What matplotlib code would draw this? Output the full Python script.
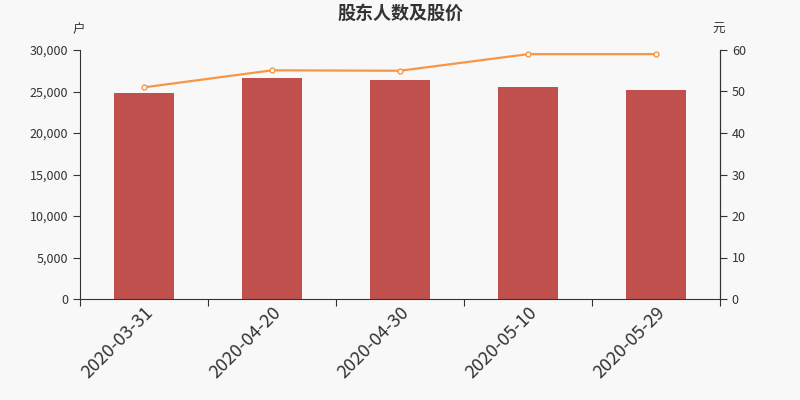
import matplotlib.pyplot as plt
import numpy as np

plt.rcParams['font.family'] = ['Noto Sans CJK SC', 'DejaVu Sans']

# data
dates = ['2020-03-31', '2020-04-20', '2020-04-30', '2020-05-10', '2020-05-29']
holders = [24780, 26630, 26390, 25510, 25180]   # 户
price = [51.0, 55.1, 55.0, 59.0, 59.0]           # 元

bg = '#f8f8f8'
txt = '#333333'

fig = plt.figure(figsize=(8, 4), dpi=100, facecolor=bg)
ax = fig.add_axes([0.1, 0.2525, 0.8, 0.6225])
ax.set_facecolor(bg)

x = np.arange(len(dates))
ax.bar(x, holders, width=0.47, color='#c0504d', zorder=2)
ax.set_xlim(-0.5, len(dates) - 0.5)
ax.set_ylim(0, 30000)
ax.set_yticks(np.arange(0, 30001, 5000))
ax.set_yticklabels([f'{v:,}' for v in range(0, 30001, 5000)])

# ticks between categories, labels centred under bars
ax.set_xticks(np.arange(-0.5, len(dates), 1.0))
ax.set_xticklabels([])
ax.set_xticks(x, minor=True)
ax.set_xticklabels(dates, minor=True, rotation=45, ha='right',
                   rotation_mode='anchor', fontsize=13, color=txt)
ax.tick_params(axis='x', which='minor', length=0, pad=3)
ax.tick_params(axis='x', which='major', length=5, color=txt)
ax.tick_params(axis='y', labelsize=9, colors=txt, length=5)

ax.spines['top'].set_visible(False)
for s in ['left', 'bottom', 'right']:
    ax.spines[s].set_color(txt)

ax2 = ax.twinx()
ax2.plot(x, price, color='#f79646', lw=1.6, marker='o', ms=3.5,
         mfc='white', mec='#f79646', mew=1, zorder=3)
ax2.set_ylim(0, 60)
ax2.set_yticks(np.arange(0, 61, 10))
ax2.tick_params(axis='y', labelsize=9, colors=txt, length=5)
ax2.spines['top'].set_visible(False)
ax2.spines['right'].set_color(txt)
ax2.spines['left'].set_visible(False)
ax2.spines['bottom'].set_visible(False)

fig.text(0.098, 0.91, '户', fontsize=9, color=txt, ha='center', va='bottom')
fig.text(0.898, 0.91, '元', fontsize=9, color=txt, ha='center', va='bottom')
fig.text(0.5, 0.99, '股东人数及股价', fontsize=13, fontweight='bold',
         color=txt, ha='center', va='top')

fig.savefig('out.png', dpi=100, facecolor=bg)
